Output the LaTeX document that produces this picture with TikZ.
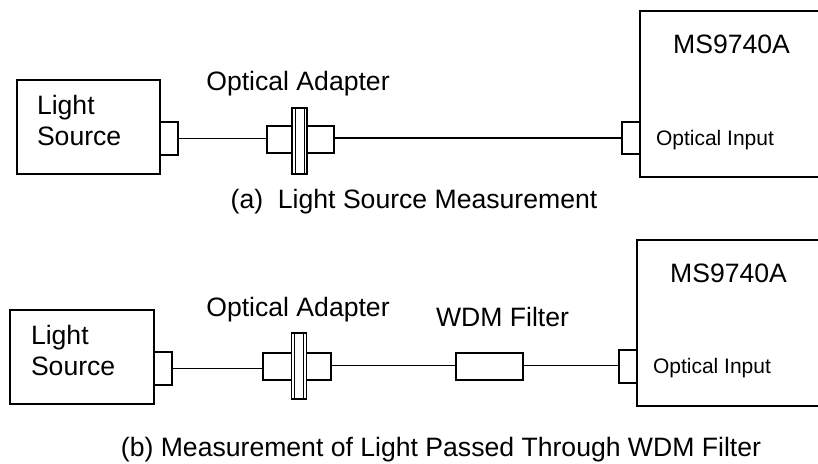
\documentclass[tikz,border=0pt]{standalone}
\usepackage{fontspec}
\setmainfont{Liberation Sans}
\usetikzlibrary{positioning}

\begin{document}
\begin{tikzpicture}[
  x=1pt, y=-1pt,
  every node/.style={inner sep=0pt, outer sep=0pt},
  box/.style={rectangle, draw, line width=1.4pt, anchor=north west},
  lbl/.style={font=\fontsize{26.6}{31}\selectfont},
  small/.style={font=\fontsize{21}{25}\selectfont},
  cable/.style={line width=1.8pt},
]
\useasboundingbox (0,0) rectangle (818,463);

% === (a) Light source measurement ===
\node[box, minimum width=143pt, minimum height=94pt] (srcA) at (17,80) {};
\node[lbl, align=left, anchor=north west] (srcAtxt) at (37,95.5) {Light\\Source};
\node[box, minimum width=18pt, minimum height=33pt] (srcAport) at (160,122) {};
\node[box, minimum width=67pt, minimum height=27pt] (adpA) at (267,126) {};
\node[box, minimum width=15pt, minimum height=66pt, fill=white] (flgA) at (292,108) {};
\draw[line width=.9pt] ([xshift=3pt]flgA.north west) -- ([xshift=3pt]flgA.south west);
\draw[line width=.9pt] ([xshift=-3pt]flgA.north east) -- ([xshift=-3pt]flgA.south east);
\node[lbl, anchor=base] (adpAtxt) at (298,90) {Optical Adapter};
\node[box, minimum width=190pt, minimum height=166pt] (msA) at (640,11) {};
\node[lbl, anchor=base] (msAtxt) at (731.5,53) {MS9740A};
\node[small, anchor=base west] (inAtxt) at (656,145) {Optical Input};
\node[box, minimum width=18pt, minimum height=32pt] (msAport) at (622,122) {};
\draw[cable] (srcAport.east) -- (adpA.west |- srcAport.east);
\draw[cable] (adpA.east |- msAport.west) -- (msAport.west);
\node[lbl, anchor=base] (capA) at (414,208) {(a)\ \ Light Source Measurement};

% === (b) Through WDM filter ===
\node[box, minimum width=144pt, minimum height=94pt] (srcB) at (10,310) {};
\node[lbl, align=left, anchor=north west] (srcBtxt) at (31,325.5) {Light\\Source};
\node[box, minimum width=18pt, minimum height=33pt] (srcBport) at (154,352) {};
\node[box, minimum width=68pt, minimum height=27pt] (adpB) at (263,353) {};
\node[box, minimum width=15pt, minimum height=66pt, fill=white] (flgB) at (291.5,333) {};
\draw[line width=.9pt] ([xshift=3pt]flgB.north west) -- ([xshift=3pt]flgB.south west);
\draw[line width=.9pt] ([xshift=-3pt]flgB.north east) -- ([xshift=-3pt]flgB.south east);
\node[lbl, anchor=base] (adpBtxt) at (298,316) {Optical Adapter};
\node[box, minimum width=67pt, minimum height=27pt] (wdm) at (456,353) {};
\node[lbl, anchor=base] (wdmtxt) at (502.5,326) {WDM Filter};
\node[box, minimum width=193pt, minimum height=166pt] (msB) at (637,240) {};
\node[lbl, anchor=base] (msBtxt) at (728.5,282) {MS9740A};
\node[small, anchor=base west] (inBtxt) at (653,373) {Optical Input};
\node[box, minimum width=18pt, minimum height=33pt] (msBport) at (619,350) {};
\draw[cable] (srcBport.east) -- (adpB.west |- srcBport.east);
\draw[cable] ([yshift=1pt]adpB.east) -- ([yshift=1pt]wdm.west);
\draw[cable] ([yshift=1pt]wdm.east) -- ([yshift=1pt]msBport.west);
\node[lbl, anchor=base] (capB) at (441,456) {(b) Measurement of Light Passed Through WDM Filter};
\end{tikzpicture}
\end{document}
